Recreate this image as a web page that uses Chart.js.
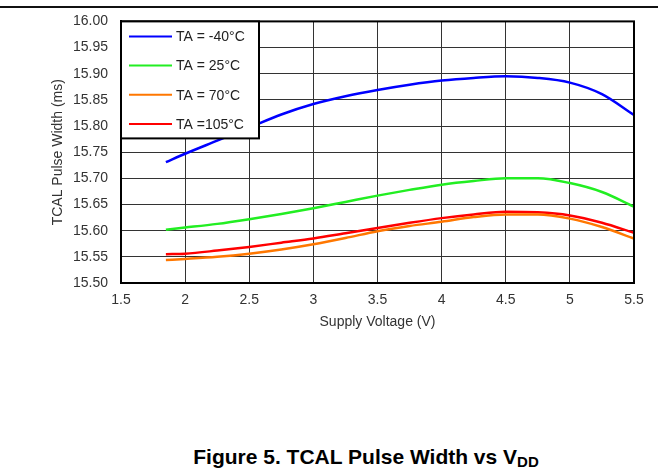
<!DOCTYPE html>
<html>
<head>
<meta charset="utf-8">
<script src="https://cdn.jsdelivr.net/npm/chart.js@4.4.0/dist/chart.umd.min.js"></script>
<style>
    body { margin: 0; background: #fff; font-family: "Liberation Sans", Arial, sans-serif; }
    #page { position: relative; width: 658px; height: 471px; overflow: hidden; }
    #rule { position: absolute; left: 0; top: 6px; width: 658px; height: 0; border-top: 2px solid #111; }
    #wrap { position: absolute; left: 0; top: 0; width: 658px; height: 345px; }
    #caption { position: absolute; left: 0; width: 732px; top: 446px; line-height: 21px; text-align: center; font-weight: bold; font-size: 21px; color: #000; }
    #caption sub { font-size: 15px; line-height: 0; vertical-align: -3px; }
</style>
</head>
<body>
<div id="page">
    <div id="rule"></div>
    <div id="wrap"><canvas id="pulseChart"></canvas></div>
    <div id="caption">Figure 5. TCAL Pulse Width vs V<sub>DD</sub></div>
</div>
<script>
// Supply voltage sample points (V)
const voltages = [1.85, 2.0, 2.25, 2.5, 2.75, 3.0, 3.25, 3.5, 3.75, 4.0, 4.25, 4.5, 4.75, 5.0, 5.25, 5.5];

// Pulse width (ms) per temperature
const widthMinus40 = [15.731, 15.747, 15.772, 15.797, 15.822, 15.842, 15.857, 15.869, 15.879, 15.887, 15.892, 15.895, 15.892, 15.883, 15.861, 15.821];
const width25      = [15.602, 15.606, 15.613, 15.622, 15.632, 15.643, 15.655, 15.667, 15.678, 15.688, 15.695, 15.700, 15.700, 15.691, 15.674, 15.646];
const width70      = [15.544, 15.546, 15.550, 15.556, 15.564, 15.574, 15.586, 15.599, 15.609, 15.617, 15.626, 15.631, 15.631, 15.623, 15.607, 15.585];
const width105     = [15.555, 15.556, 15.562, 15.569, 15.577, 15.585, 15.595, 15.605, 15.615, 15.624, 15.631, 15.636, 15.635, 15.629, 15.615, 15.596];

const seriesLabels = ['TA = -40°C', 'TA = 25°C', 'TA = 70°C', 'TA =105°C'];
const seriesColors = ['#0000ff', '#22ee22', '#ff7700', '#ff0000'];

const yTicks = [15.50, 15.55, 15.60, 15.65, 15.70, 15.75, 15.80, 15.85, 15.90, 15.95, 16.00];
const xTicks = [1.5, 2, 2.5, 3, 3.5, 4, 4.5, 5, 5.5];

const FONT = '"Liberation Sans", Arial, sans-serif';

function toPoints(values) {
    return values.map((v, i) => ({ x: voltages[i], y: v }));
}

// Legend box drawn inside the plot area, plus the heavy frame
const frameAndLegend = {
    id: 'frameAndLegend',
    afterDatasetsDraw(chart) {
        const ctx = chart.ctx;
        const area = chart.chartArea;
        ctx.save();
        ctx.strokeStyle = '#000';
        ctx.lineWidth = 2;
        ctx.strokeRect(area.left, area.top, area.right - area.left, area.bottom - area.top);

        // legend
        const bx = area.left, by = area.top, bw = 138, bh = 117;
        ctx.fillStyle = '#fff';
        ctx.fillRect(bx, by, bw, bh);
        ctx.strokeRect(bx, by, bw, bh);
        ctx.font = '14px ' + FONT;
        ctx.textBaseline = 'middle';
        chart.data.datasets.forEach((ds, i) => {
            const ry = by + 15 + i * 29.2;
            ctx.strokeStyle = ds.borderColor;
            ctx.lineWidth = 2;
            ctx.beginPath();
            ctx.moveTo(bx + 8, ry);
            ctx.lineTo(bx + 51, ry);
            ctx.stroke();
            ctx.fillStyle = '#222';
            ctx.fillText(ds.label, bx + 55, ry + 1);
        });
        ctx.restore();
    }
};

const ctx = document.getElementById('pulseChart');
const allSeries = [widthMinus40, width25, width70, width105];

new Chart(ctx, {
    type: 'line',
    data: {
        datasets: allSeries.map((values, i) => ({
            label: seriesLabels[i],
            data: toPoints(values),
            borderColor: seriesColors[i],
            backgroundColor: seriesColors[i],
            borderWidth: 2.5,
            pointRadius: 0,
            tension: 0.4,
            cubicInterpolationMode: 'monotone',
            fill: false
        }))
    },
    options: {
        responsive: true,
        maintainAspectRatio: false,
        animation: false,
        layout: {
            padding: { top: 20, right: 24, left: 50, bottom: 14 }
        },
        plugins: {
            legend: { display: false },
            tooltip: { enabled: false }
        },
        scales: {
            x: {
                type: 'linear',
                min: 1.5,
                max: 5.5,
                afterBuildTicks: (scale) => { scale.ticks = xTicks.map(v => ({ value: v })); },
                afterFit: (scale) => { scale.height = 48; },
                grid: { color: '#333', lineWidth: 1, drawTicks: false },
                border: { color: '#000', width: 2 },
                ticks: {
                    color: '#333',
                    padding: 9,
                    font: { family: FONT, size: 14 },
                    callback: (value) => String(value)
                },
                title: {
                    display: true,
                    text: 'Supply Voltage (V)',
                    color: '#333',
                    padding: { top: 2, bottom: 0 },
                    font: { family: FONT, size: 14 }
                }
            },
            y: {
                min: 15.5,
                max: 16.0,
                afterBuildTicks: (scale) => { scale.ticks = yTicks.map(v => ({ value: v })); },
                afterFit: (scale) => { scale.width = 71; },
                grid: { color: '#333', lineWidth: 1, drawTicks: false },
                border: { color: '#000', width: 2 },
                ticks: {
                    color: '#333',
                    padding: 13,
                    font: { family: FONT, size: 14 },
                    callback: (value) => Number(value).toFixed(2)
                },
                title: {
                    display: true,
                    text: 'TCAL Pulse Width (ms)',
                    color: '#333',
                    padding: { top: 0, bottom: 0 },
                    font: { family: FONT, size: 14 }
                }
            }
        }
    },
    plugins: [frameAndLegend]
});
</script>
</body>
</html>
